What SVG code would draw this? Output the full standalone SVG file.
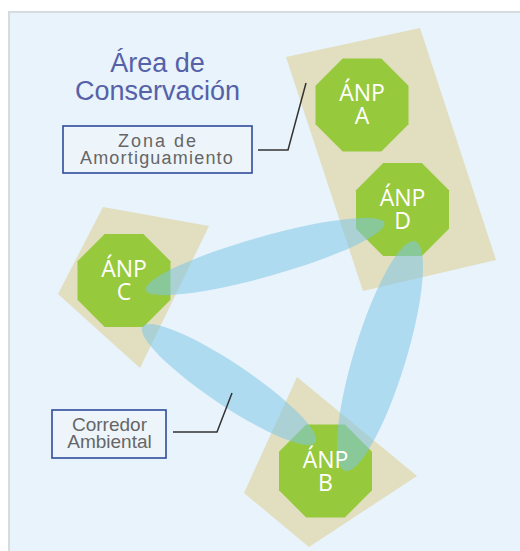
<svg xmlns="http://www.w3.org/2000/svg" xmlns:xlink="http://www.w3.org/1999/xlink" width="520" height="551" viewBox="0 0 520 551">
<style>
.zone{fill:#e2dec0}
.oct{fill:#97c93d}
.corr{fill:#7ec7e5;fill-opacity:0.55}
.np{font-family:"Open Sans","Noto Sans",sans-serif;font-size:23px;fill:#ffffff;text-anchor:middle}
.title{font-family:"Liberation Sans",Arial,sans-serif;font-size:27px;fill:#5661a8;text-anchor:middle}
.lbl{font-family:"Liberation Sans",Arial,sans-serif;fill:#666666;text-anchor:middle}
.box{fill:#edf5fb;stroke:#2d4b9b;stroke-width:1.6}
.lead{fill:none;stroke:#333333;stroke-width:1.5}
</style>
<defs>
<polygon id="oct" points="-19.3,-46.5 19.3,-46.5 46.5,-19.3 46.5,19.3 19.3,46.5 -19.3,46.5 -46.5,19.3 -46.5,-19.3"/>
</defs>
<rect x="0" y="0" width="520" height="551" fill="#ffffff"/>
<rect x="9" y="12" width="520" height="560" fill="#e8f3fb" stroke="#d6dbde" stroke-width="2"/>
<g id="title">
<text class="title" x="157.5" y="72">Área de</text>
<text class="title" x="157.5" y="100">Conservación</text>
</g>
<g id="zone-AD"><polygon class="zone" points="286,57 420,28 496,260 363,291"/></g>
<g id="zone-C"><polygon class="zone" points="103,207 209,226 140,368 58,294"/></g>
<g id="zone-B"><polygon class="zone" points="297,377 417,476 309,547 244,493"/></g>
<g id="node-A"><use xlink:href="#oct" class="oct" x="362" y="105"/></g>
<g id="node-D"><use xlink:href="#oct" class="oct" x="402.5" y="209.5"/></g>
<g id="node-C"><use xlink:href="#oct" class="oct" x="124" y="280.5"/></g>
<g id="node-B"><use xlink:href="#oct" class="oct" x="325.5" y="471"/></g>
<g id="connectors">
<ellipse class="corr" cx="265" cy="256.5" rx="124" ry="20" transform="rotate(-15.7 265 256.5)"/>
<ellipse class="corr" cx="229" cy="384.5" rx="104" ry="21" transform="rotate(33.8 229 384.5)"/>
<ellipse class="corr" cx="380" cy="356" rx="120" ry="26" transform="rotate(107 380 356)"/>
</g>
<g id="label-A"><text class="np" x="362" y="101">ÁNP</text><text class="np" x="362" y="124">A</text></g>
<g id="label-D"><text class="np" x="402.5" y="206">ÁNP</text><text class="np" x="402.5" y="229">D</text></g>
<g id="label-C"><text class="np" x="124" y="277">ÁNP</text><text class="np" x="124" y="300">C</text></g>
<g id="label-B"><text class="np" x="325.5" y="467.5">ÁNP</text><text class="np" x="325.5" y="490.5">B</text></g>
<g id="callout-zona">
<rect class="box" x="63" y="126" width="189" height="47"/>
<text class="lbl" x="158" y="147" font-size="18" letter-spacing="2">Zona de</text>
<text class="lbl" x="157" y="164" font-size="18" letter-spacing="1.2">Amortiguamiento</text>
<polyline class="lead" points="258,150 288,150 306,83"/>
</g>
<g id="callout-corredor">
<rect class="box" x="52" y="410" width="114" height="48"/>
<text class="lbl" x="109.5" y="431" font-size="19">Corredor</text>
<text class="lbl" x="109.5" y="448" font-size="19">Ambiental</text>
<polyline class="lead" points="173,432 217,432 232,393"/>
</g>
</svg>
